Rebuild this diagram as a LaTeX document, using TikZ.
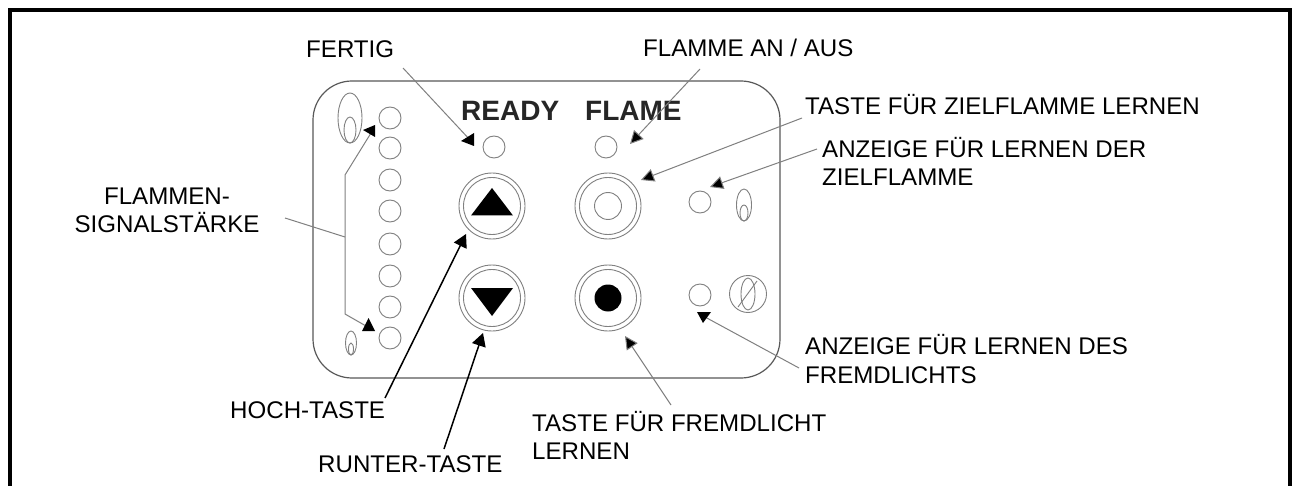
\documentclass[tikz,border=0pt]{standalone}
\usepackage{fontspec}
\setmainfont{Liberation Sans}
\usetikzlibrary{arrows.meta,shapes.geometric}
\definecolor{ledgrey}{gray}{0.5}
\definecolor{panelgrey}{gray}{0.35}
\definecolor{leadgrey}{gray}{0.5}
\tikzset{
  lbl/.style={anchor=base west,inner sep=0pt,font=\fontsize{24.1}{28}\selectfont,text=black},
  head/.style={font=\fontsize{28}{30}\selectfont\bfseries,anchor=base west,inner sep=0pt,text=black!85},
  led/.style={circle,draw=ledgrey,line width=0.9pt,minimum size=22pt,inner sep=0pt},
  ringa/.style={circle,draw=ledgrey,line width=0.9pt,minimum size=66pt,inner sep=0pt},
  ringb/.style={circle,draw=ledgrey,line width=0.9pt,minimum size=57pt,inner sep=0pt},
  core/.style={circle,draw=ledgrey,line width=0.9pt,minimum size=27pt,inner sep=0pt},
  blackcore/.style={circle,fill=black,minimum size=27pt,inner sep=0pt},
  flameo/.style={draw=ledgrey,line width=0.9pt},
  lead/.style={draw=leadgrey,line width=1pt,-{Triangle[length=13pt,width=13pt,fill=black]}},
  leadplain/.style={draw=leadgrey,line width=1pt},
  strong/.style={draw=black,line width=1.5pt,-{Triangle[length=13pt,width=14pt,fill=black]}},
  tipfill/.style={fill=black,draw=none},
}
\begin{document}
\begin{tikzpicture}[x=1pt,y=-1pt]
\useasboundingbox (0,0) rectangle (1297,486);
\fill[white] (0,0) rectangle (1297,486);
% outer frame, open at the bottom
\draw[black,line width=3.6pt,line join=miter] (10,486) -- (10,10) -- (1290,10) -- (1290,486);
% panel
\node[draw=panelgrey,line width=1.2pt,rounded corners=39pt,minimum width=467pt,minimum height=297pt,inner sep=0pt] (panel) at (546.5,229.5) {};
% headings
\node[head] (ready) at (461,121) {READY};
\node[head] (flame) at (585,121) {FLAME};
% LED column
\node[led] (c1) at (390,118) {};
\node[led] (c2) at (390,148) {};
\node[led] (c3) at (390,180) {};
\node[led] (c4) at (390,211) {};
\node[led] (c5) at (390,244) {};
\node[led] (c6) at (390,276) {};
\node[led] (c7) at (390,307) {};
\node[led] (c8) at (390,338) {};
% other LEDs
\node[led] (lready) at (494,147) {};
\node[led] (lflame) at (606,147) {};
\node[led] (lziel) at (700,202) {};
\node[led] (lfremd) at (700,295) {};
% flames
\draw[flameo] (350,118) ellipse [x radius=12,y radius=25];
\draw[flameo] (350,130) ellipse [x radius=6,y radius=13];
\draw[flameo] (351,343) ellipse [x radius=5.5,y radius=12];
\draw[flameo] (351,349) ellipse [x radius=2.5,y radius=6];
\draw[flameo] (744,205) ellipse [x radius=7.5,y radius=16];
\draw[flameo] (744,213) ellipse [x radius=4,y radius=8];
% crossed flame
\node[circle,draw=ledgrey,line width=0.9pt,minimum size=37pt,inner sep=0pt] (cross) at (748,294) {};
\draw[flameo] (748,294) ellipse [x radius=7,y radius=16];
\draw[flameo] (738,307) -- (757,281);
% buttons
\node[ringa] (upa) at (492,206) {};
\node[ringb] (upb) at (492,206) {};
\fill[black] (492,188) -- (513,215.5) -- (471,215.5) -- cycle;
\node[ringa] (dna) at (492,298) {};
\node[ringb] (dnb) at (492,298) {};
\fill[black] (492,316) -- (513,288) -- (471,288) -- cycle;
\node[ringa] (zra) at (608,206) {};
\node[ringb] (zrb) at (608,206) {};
\node[core] (zrc) at (608,206) {};
\node[ringa] (fra) at (608,298) {};
\node[ringb] (frb) at (608,298) {};
\node[blackcore] (frc) at (608,298) {};
% labels
\node[lbl] (tfertig) at (306,58) {FERTIG};
\node[lbl] (tan) at (643,57) {FLAMME AN / AUS};
\node[lbl] (tziel) at (805,115) {TASTE FÜR ZIELFLAMME LERNEN};
\node[lbl] (tanz) at (822,158) {ANZEIGE FÜR LERNEN DER};
\node[lbl] (tanz2) at (822,186) {ZIELFLAMME};
\node[lbl,anchor=base] (tsig1) at (167,205) {FLAMMEN-};
\node[lbl,anchor=base] (tsig2) at (167,233) {SIGNALSTÄRKE};
\node[lbl] (thoch) at (230,418) {HOCH-TASTE};
\node[lbl] (trun) at (318,472) {RUNTER-TASTE};
\node[lbl] (tfr) at (532,431) {TASTE FÜR FREMDLICHT};
\node[lbl] (tfr2) at (532,459) {LERNEN};
\node[lbl] (tde) at (805,354) {ANZEIGE FÜR LERNEN DES};
\node[lbl] (tde2) at (805,383) {FREMDLICHTS};
% connector ends
\coordinate (afertig) at (403,68);
\coordinate (bfertig) at (471,141);
\coordinate (aflame) at (700,69);
\coordinate (bflame) at (630,144);
\coordinate (aziel) at (802,118);
\coordinate (bziel) at (641,180);
\coordinate (aanz) at (817,149);
\coordinate (banz) at (710,187);
\coordinate (afr) at (671,405);
\coordinate (bfr) at (625,336);
\coordinate (ade) at (799,368);
\coordinate (bde) at (705,317);
\coordinate (ahoch) at (385,398);
\coordinate (bhoch) at (466,234);
\coordinate (arun) at (444,449);
\coordinate (brun) at (483,333);
\coordinate (asig) at (285,218);
\coordinate (bsig) at (345,237);
\coordinate (btop) at (345,175);
\coordinate (bbot) at (345,314);
\coordinate (tiptop) at (371,133);
\coordinate (tipbot) at (366,326);
% connectors
\draw[leadplain] (afertig) -- (bfertig);
\fill[tipfill] (474,146) -- (461,141) -- (474,133) -- cycle;
\draw[lead] (aflame) -- (bflame);
\draw[lead] (aziel) -- (bziel);
\draw[lead] (aanz) -- (banz);
\draw[lead] (afr) -- (bfr);
\draw[leadplain] (ade) -- (bde);
\fill[tipfill] (703,323) -- (697,312) -- (711,312) -- cycle;
\draw[strong] (ahoch) -- (bhoch);
\draw[strong] (arun) -- (brun);
\draw[leadplain] (asig) -- (bsig);
\draw[leadplain] (tiptop) -- (btop) -- (bbot) -- (tipbot);
\fill[tipfill] (363,130) -- (375,125) -- (375,137) -- cycle;
\fill[tipfill] (368.5,318) -- (362,331) -- (375,331) -- cycle;
\end{tikzpicture}
\end{document}
